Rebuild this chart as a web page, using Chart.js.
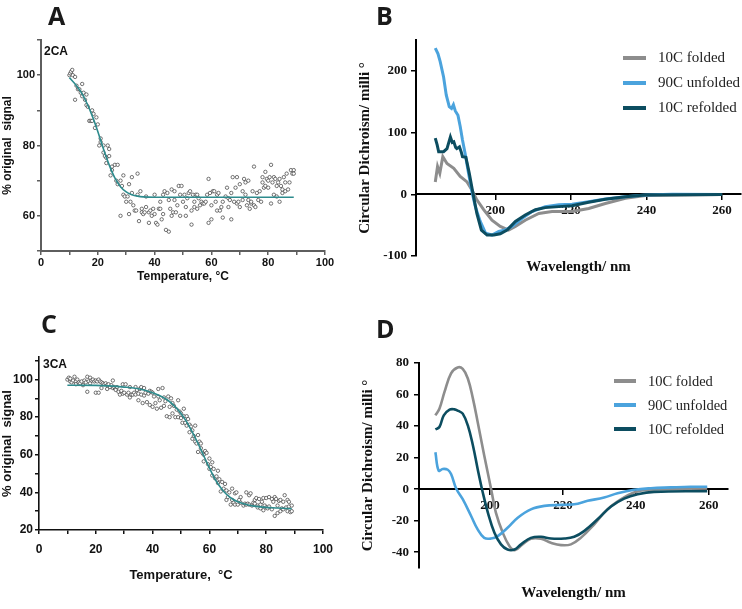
<!DOCTYPE html>
<html>
<head>
<meta charset="utf-8">
<script src="https://cdn.jsdelivr.net/npm/chart.js@4.4.0/dist/chart.umd.min.js"></script>
<style>
  body { margin: 0; background: #fff; }
  #page { position: relative; width: 742px; height: 609px; overflow: hidden; }
  canvas { position: absolute; }
  .letter { position: absolute; font-family: "Open Sans", sans-serif; font-weight: 700; font-size: 25px; line-height: 1; color: #1a1a1a; }
  .tag { position: absolute; font-family: "Liberation Sans", Arial, sans-serif; font-weight: 700; font-size: 12px; line-height: 1; color: #111; }
  .legend { position: absolute; font-family: "Liberation Serif", "Times New Roman", serif; color: #222; }
  .legend div { display: flex; align-items: center; white-space: nowrap; }
  .legend span.sw { display: inline-block; }
</style>
</head>
<body>
<div id="page">
  <canvas id="cA" width="371" height="300" style="left:0;top:0"></canvas>
  <canvas id="cB" width="392" height="300" style="left:350px;top:0"></canvas>
  <canvas id="cC" width="371" height="309" style="left:0;top:300px"></canvas>
  <canvas id="cD" width="392" height="309" style="left:350px;top:300px"></canvas>
  <div class="letter" style="left:48px;top:3px">A</div>
  <div class="letter" style="left:376px;top:3px">B</div>
  <div class="letter" style="left:41px;top:311px">C</div>
  <div class="letter" style="left:376px;top:316px">D</div>
  <div class="tag" style="left:44px;top:45px">2CA</div>
  <div class="tag" style="left:43px;top:358px">3CA</div>
  <div class="legend" id="legB" style="left:623px;top:45px;font-size:15px"></div>
  <div class="legend" id="legD" style="left:614px;top:369px;font-size:14.5px"></div>
</div>
<script>
// panel A: 2CA thermal melt, [temperature, % original signal]
const pointsA = [[10,100],[10.3,100.5],[10.6,101],[11,101.5],[11.2,100],[12,99.5],[12,93],[12.5,97],[13,96],[13.5,96],[14,95],[14.5,97.5],[14.5,94],[15,95],[15.5,93],[16,91.5],[16,94.5],[16.5,91],[17,87],[17.5,87],[18,90],[18,87],[18.5,89],[19,85],[19.5,88],[20,86],[20.5,80],[21,82],[21,81],[22,78],[22,80],[22.5,77],[23,75],[23,76.5],[23.5,80],[24,77],[24,79],[24.5,71.5],[25,74],[25,73],[26,74.5],[26.5,70],[27,74.5],[27,69],[28,70],[28,60],[28.5,68.5],[29,71.5],[29,66],[29.5,65.5],[30,64],[30.5,65.5],[31,69],[31,60.5],[31.5,64],[32,71],[32,66.5],[32.5,63],[33,61.5],[33.5,61.5],[34,72],[34,66],[34.5,58.5],[35,67],[35.5,62],[35.5,61],[36,60.5],[36.5,61],[37,65.5],[37,62.5],[38,61],[38,58],[38.5,61.5],[39,60],[39.5,62],[40,66],[40,60.5],[40.5,58],[41,57.5],[41.5,62],[42,64],[42,62],[42.5,59],[43,60.5],[43,66],[43.5,67],[44,56],[44.5,66.5],[45,55.5],[45,64.5],[45.5,62],[46,60],[46,67.5],[46.5,61],[47,64.5],[47,67],[47.5,61],[48,63],[48.5,68.5],[49,60],[49,66],[49.5,68.5],[50,64],[50.5,66],[51,62.5],[51,60],[51.5,65],[52,66.5],[52.5,67],[53,57.5],[53,61.5],[53.5,66],[54,62.5],[54,64],[54.5,66],[55,62],[55,66],[55.5,65],[56,63],[56.5,64],[57,63.5],[57.5,63.5],[58,64],[58.5,66],[59,58],[59,70.5],[59.5,66.5],[60,59],[60,63],[60.5,67],[61,67],[61.5,64],[62,61.5],[62,66],[62.5,66.5],[63,61.5],[63.5,62.5],[64,59.5],[64,64],[65,65.5],[65.5,68],[66,62.5],[66,65],[66.5,64.5],[67,59],[67,66.5],[67.5,71],[68,64],[68.5,68],[69,71],[69,63.5],[69.5,64],[70,62.5],[70,69],[71,64.5],[71,67],[71.5,70.5],[72,69.5],[72,66],[72.5,63],[73,70],[73,64.5],[73.5,62],[74,63.5],[74,64],[74.5,67],[75,74],[75,63],[75.5,62.5],[76,66.5],[76.5,64.5],[77,67],[77.5,64],[78,69.5],[78,71],[78.5,68],[79,68.5],[79,72.5],[79.5,70.5],[80,68],[80,70],[80.5,71],[81,74.5],[81,63.5],[81.5,69.5],[82,66],[82,71],[82.5,70.5],[83,65.5],[83,68.5],[83.5,69.5],[84,64],[84,70.5],[84.5,68.5],[85,66.5],[85,67.5],[85.5,71],[86,67],[86,69.5],[86.5,72],[87,67.5],[87.5,69.5],[88,73],[88.5,72],[89,73],[89,72]];
const fitA = [[10,99.3],[12,97.5],[14,95.3],[16,92.3],[18,88.5],[20,84],[22,79],[24,74.5],[26,70.8],[28,68.3],[30,66.8],[32,66],[34,65.6],[36,65.4],[40,65.3],[50,65.3],[89,65.3]];

// panel C: 3CA thermal melt
const pointsC = [[10,100],[10.5,101],[11,99],[11,100.5],[11.5,98.5],[12,99.5],[12.5,101.5],[13,99],[13,97.5],[13.5,100],[14,98.5],[14.5,98],[15,99],[15.5,97],[16,99.5],[16.5,98.5],[17,101.5],[17,93.5],[17.5,99],[18,101],[18,98],[18.5,99.5],[19,100],[19.5,99],[20,99.5],[20,93],[20.5,99],[21,93],[21,100],[21.5,99],[22,98.5],[22,95.5],[22.5,98],[23,97.5],[23.5,98],[24,97],[24,95],[24.5,97.5],[25,96],[25.5,97],[26,99.5],[26,95.5],[26.5,96],[27,95],[27,94.5],[27.5,96],[28,93.5],[28.5,92],[29,94],[29.5,92.5],[29.5,97.5],[30,93],[30.5,97.5],[31,92],[31.5,93],[32,90.5],[32,96],[32.5,92],[33,92],[33.5,93],[34,92],[34,96],[34.5,94.5],[35,92.5],[35,89],[35.5,95],[36,96],[36,92],[36.5,87.5],[37,91.5],[37,95.5],[37.5,93],[38,88],[38.5,92.5],[39,86.5],[39,94],[39.5,93.5],[40,85.5],[40,93],[40.5,91],[41,87.5],[41.5,84.5],[42,91],[42,95],[42.5,89],[43,85],[43.5,95.5],[44,86],[44,90.5],[44.5,88.5],[45,80.5],[45.5,91],[46,80],[46,85.5],[46.5,90],[47,82],[47,87.5],[47.5,86],[48,80],[48.5,84],[49,80],[49,89],[49.5,83],[50,79.5],[50,82],[50.5,77],[51,84.5],[51,80.5],[51.5,77],[52,80.5],[52,75.5],[52.5,79],[53,76],[53,72],[53.5,75],[54,73],[54,68.5],[54.5,70],[55,75.5],[55,67],[55.5,66],[56,70.5],[56,61.5],[56.5,67],[57,63.5],[57,66],[57.5,61],[58,60],[58,56.5],[58.5,62],[59,61],[59.5,55],[60,58],[60,52.5],[60.5,53.5],[61,56],[61,49],[61.5,52.5],[62,47.5],[62.5,48.5],[63,45],[63,51.5],[63.5,47],[64,40.5],[64.5,45.5],[65,42],[65.5,44.5],[66,36],[66,41],[66.5,37.5],[67,40],[67.5,33.5],[68,36],[68,42],[68.5,34.5],[69,39.5],[69,33.5],[69.5,40],[70,33.5],[70.5,36],[71,34.5],[71,37.5],[72,33],[72.5,34],[73,33.5],[73,40],[73.5,34],[74,33.5],[74,38.5],[74.5,39.5],[75,33],[75.5,34.5],[76,34],[76,36],[76.5,37],[77,33],[77,32],[77.5,36.5],[78,31.5],[78,33.5],[78.5,35],[79,37],[79,30.5],[79.5,33],[80,37],[80,32],[80.5,31.5],[81,37.5],[81,32.5],[82,36.5],[82,31],[82.5,35],[83,37.5],[83,27.5],[83.5,36.5],[84,29],[84,33],[84.5,35.5],[85,36],[85,30],[85.5,31.5],[86,35],[86,31],[86.5,38.5],[87,32],[87.5,36],[87.5,30],[88,32.5],[88,35],[88.5,29.5],[89,33],[89,30]];
const fitC = [[10,97],[20,96.9],[30,96],[35,95.1],[40,93],[45,89.4],[48,85.5],[50,82],[52,77.5],[54,72],[56,66],[58,59.5],[60,53],[62,47],[64,42.5],[66,39],[68,36.6],[70,35],[74,33.2],[78,32.3],[84,31.7],[89,31.3]];

// panel B: CD spectra, [wavelength nm, milli deg]
const foldedB = [[184.1,20],[184.7,45],[185.3,34],[186.1,61],[187.2,50],[189,42],[190.7,29],[192.5,20],[193.8,7],[195.1,-9],[196.9,-25],[199.1,-42],[201.3,-52],[203.5,-58],[205.3,-52],[207.9,-42],[211.5,-31],[215,-28],[220.3,-28],[224.7,-23],[229.1,-15],[234.4,-6.5],[239.7,-2],[260,-0.5]];
const unfoldedB = [[184.1,237],[184.8,228],[185.4,215],[186.3,190],[187,161],[187.8,142],[188.4,139],[188.9,145],[189.4,135],[190.1,128],[190.7,110],[191.3,88],[192,66],[192.9,34],[193.8,4],[194.7,-20],[196,-44],[197.4,-63],[199.1,-66],[200.9,-60],[202.6,-58],[204.4,-52],[207.1,-39],[209.7,-28],[213.2,-20],[216.8,-17],[220.3,-16],[224.7,-12],[229.1,-7.6],[234.4,-4],[239.7,-1],[246.8,0],[260,-0.5]];
const refoldedB = [[184.1,91],[184.6,80],[185,69],[186.3,69],[187.2,74],[188.1,93],[188.6,84],[189,85],[189.5,76],[189.8,74],[190.5,77],[191,68],[191.3,61],[192.2,60],[193.1,34],[194,4],[195.1,-31],[196.3,-58],[197.8,-66],[199.6,-66],[201.3,-64],[203.1,-58],[205.3,-44],[207.9,-33.5],[210.6,-25],[213.2,-21.6],[216.8,-20],[220.3,-18.4],[224.7,-13],[229.1,-8],[234.4,-4],[239.7,-1],[260,-0.5]];

// panel D
const foldedD = [[185,46.8],[186.1,51],[187.5,61.7],[189.3,73.4],[191.1,77.2],[192.5,76.2],[193.9,70.2],[195.3,57.4],[196.6,42.6],[198.4,21.3],[200.3,0],[201.6,-14.9],[203.5,-27.7],[205.3,-36],[206.8,-38.7],[208.9,-35],[211.2,-31.5],[214,-31.5],[216.7,-34],[219.5,-35.5],[222.2,-35],[224.9,-30.9],[228.6,-22.3],[232.2,-12.8],[235.9,-6.4],[239.5,-2.1],[243.2,-0.4],[249.6,0],[259.6,0.4]];
const unfoldedD = [[185,23.4],[185.9,11.7],[187,12.8],[188.4,12.3],[189.3,9.6],[190.7,0.4],[192.5,-6.4],[194.8,-17],[196.6,-25.5],[198.4,-30.9],[200.3,-31.3],[202.1,-29.8],[204.8,-24.5],[207.6,-18.1],[211.2,-12.8],[214.9,-10.6],[219.5,-10],[223.1,-9.6],[226.8,-7.4],[231.3,-5.3],[235,-2.6],[239.5,-0.4],[244.1,0.6],[249.6,1.1],[255,1.5],[259.6,1.5]];
const refoldedD = [[185,37.9],[186.1,39.4],[187.3,46.8],[188.9,50.4],[190.2,50.6],[191.3,49.6],[192.5,47.9],[193.9,40.4],[195.3,27.7],[196.6,12.8],[198,-2.1],[199.4,-14.9],[201.2,-27.7],[203,-35],[204.8,-38.3],[206.7,-38.3],[208.5,-35],[211.2,-30.9],[214,-30.2],[216.7,-31.3],[220.4,-31.3],[223.1,-30.2],[225.8,-26.6],[229.5,-19.1],[233.2,-11],[236.8,-6],[240.5,-3.2],[245,-1.7],[259.6,-1.3]];

const seriesLabels = ['10C folded', '90C unfolded', '10C refolded'];
const seriesColors = ['#8d8d8d', '#4ba3dd', '#0c4d60'];
const fitColor = '#2d8b8d';

const toXY = arr => arr.map(p => ({ x: p[0], y: p[1] }));
const sans = (size) => ({ family: '"Liberation Sans", Arial, sans-serif', size: size, weight: 'bold' });
const serif = (size) => ({ family: '"Liberation Serif", "Times New Roman", serif', size: size, weight: 'bold' });

function meltChart(id, points, fit, opt) {
  return new Chart(document.getElementById(id), {
    type: 'scatter',
    data: {
      datasets: [
        { type: 'line', data: toXY(fit), borderColor: fitColor, borderWidth: 1.6, pointRadius: 0,
          cubicInterpolationMode: 'monotone', order: 0 },
        { data: toXY(points), pointRadius: 1.7, pointBorderWidth: 0.7, pointBorderColor: '#3a3a3a',
          pointBackgroundColor: '#fff', order: 1 }
      ]
    },
    options: {
      responsive: false, animation: false, devicePixelRatio: 1,
      layout: { padding: opt.padding },
      plugins: { legend: { display: false }, tooltip: { enabled: false } },
      scales: {
        x: {
          type: 'linear', min: 0, max: 100,
          afterFit: s => { s.height = opt.xHeight; },
          border: { color: opt.axisColor, width: opt.axisWidth },
          grid: { drawOnChartArea: false, tickLength: 4, color: opt.axisColor, lineWidth: 1.5 },
          ticks: { stepSize: 10, autoSkip: false, maxRotation: 0, padding: opt.xTickPad, color: '#111',
            font: sans(opt.tickSize), callback: v => v % 20 === 0 ? v : '' },
          title: { display: true, text: opt.xTitle, color: '#111', font: sans(opt.titleSize),
            padding: { top: 0, bottom: opt.xTitlePad } }
        },
        y: {
          min: opt.yMin, max: opt.yMax,
          afterFit: s => { s.width = opt.yWidth; },
          border: { color: opt.axisColor, width: opt.axisWidth },
          grid: { drawOnChartArea: false, tickLength: 4, color: opt.axisColor, lineWidth: 1.5 },
          ticks: { stepSize: 10, includeBounds: false, autoSkip: false, padding: 2, color: '#111',
            font: sans(opt.tickSize), callback: v => v % 20 === 0 ? v : '' },
          title: { display: true, text: '% original  signal', color: '#111', font: sans(opt.titleSize),
            padding: { top: 0, bottom: 0 } }
        }
      }
    }
  });
}

function cdChart(id, series, opt) {
  return new Chart(document.getElementById(id), {
    type: 'line',
    data: {
      datasets: series.map((s, i) => ({
        label: seriesLabels[i], data: toXY(s), borderColor: seriesColors[i], backgroundColor: seriesColors[i],
        borderWidth: opt.lineWidth, pointRadius: 0, tension: opt.tension, order: 2 - i
      }))
    },
    options: {
      responsive: false, animation: false, devicePixelRatio: 1,
      layout: { padding: opt.padding },
      plugins: {
        legend: { display: false }, tooltip: { enabled: false },
        title: { display: true, text: 'Wavelength/ nm', position: 'bottom', fullSize: false, color: '#111',
          font: serif(15), padding: opt.titlePad }
      },
      scales: {
        x: {
          type: 'linear', min: opt.xMin, max: opt.xMax, position: { y: 0 },
          border: { color: '#000', width: 2 },
          grid: { drawOnChartArea: false, tickLength: 5, lineWidth: 1.5,
            color: c => (c.tick && c.tick.value >= 200) ? '#000' : 'rgba(0,0,0,0)' },
          ticks: { stepSize: 20, includeBounds: false, autoSkip: false, maxRotation: 0, padding: 4, color: '#111',
            font: serif(13), callback: v => v >= 200 ? v : '' }
        },
        y: {
          min: opt.yMin, max: opt.yMax,
          afterFit: s => { s.width = opt.yWidth; },
          border: { color: '#000', width: 2 },
          grid: { drawOnChartArea: false, tickLength: 5, color: '#000', lineWidth: 1.5 },
          ticks: { stepSize: opt.yStep, includeBounds: false, autoSkip: false, padding: opt.yTickPad, color: '#111',
            font: serif(13) },
          title: { display: true, text: 'Circular Dichroism/ milli °', color: '#111', font: serif(15),
            padding: { top: opt.yTitlePad, bottom: 0 } }
        }
      }
    }
  });
}

function htmlLegend(chart, elId, swW, gap, rowH) {
  const el = document.getElementById(elId);
  chart.data.datasets.forEach(ds => {
    const row = document.createElement('div');
    row.style.height = rowH + 'px';
    const sw = document.createElement('span');
    sw.className = 'sw';
    sw.style.width = swW + 'px';
    sw.style.height = '4px';
    sw.style.background = ds.borderColor;
    sw.style.marginRight = gap + 'px';
    row.appendChild(sw);
    row.appendChild(document.createTextNode(ds.label));
    el.appendChild(row);
  });
}

meltChart('cA', pointsA, fitA, {
  padding: { left: 0, right: 46, top: 40, bottom: 0 }, xHeight: 49, yWidth: 41,
  yMin: 50, yMax: 110, axisColor: '#5e5e5e', axisWidth: 2, tickSize: 11, titleSize: 12,
  xTickPad: 1, xTitlePad: 16, xTitle: 'Temperature, °C'
});
meltChart('cC', pointsC, fitC, {
  padding: { left: 0, right: 48, top: 57, bottom: 0 }, xHeight: 79, yWidth: 39,
  yMin: 20, yMax: 112, axisColor: '#111', axisWidth: 1.6, tickSize: 12, titleSize: 13,
  xTickPad: 8, xTitlePad: 26, xTitle: 'Temperature,  °C'
});

const chartB = cdChart('cB', [foldedB, unfoldedB, refoldedB], {
  padding: { left: 0, right: 1, top: 40, bottom: 0 }, titlePad: { top: 2, bottom: 24 },
  xMin: 179, xMax: 265, yMin: -100, yMax: 250, yStep: 100, yWidth: 66, yTickPad: 4, yTitlePad: 6,
  lineWidth: 3, tension: 0
});
const chartD = cdChart('cD', [foldedD, unfoldedD, refoldedD], {
  padding: { left: 0, right: 14, top: 63, bottom: 0 }, titlePad: { top: 16, bottom: 7 },
  xMin: 180.5, xMax: 265.3, yMin: -50, yMax: 80, yStep: 20, yWidth: 69, yTickPad: 5, yTitlePad: 9,
  lineWidth: 2.6, tension: 0.4
});

htmlLegend(chartB, 'legB', 23, 12, 25);
htmlLegend(chartD, 'legD', 22, 12, 24);
</script>
</body>
</html>
